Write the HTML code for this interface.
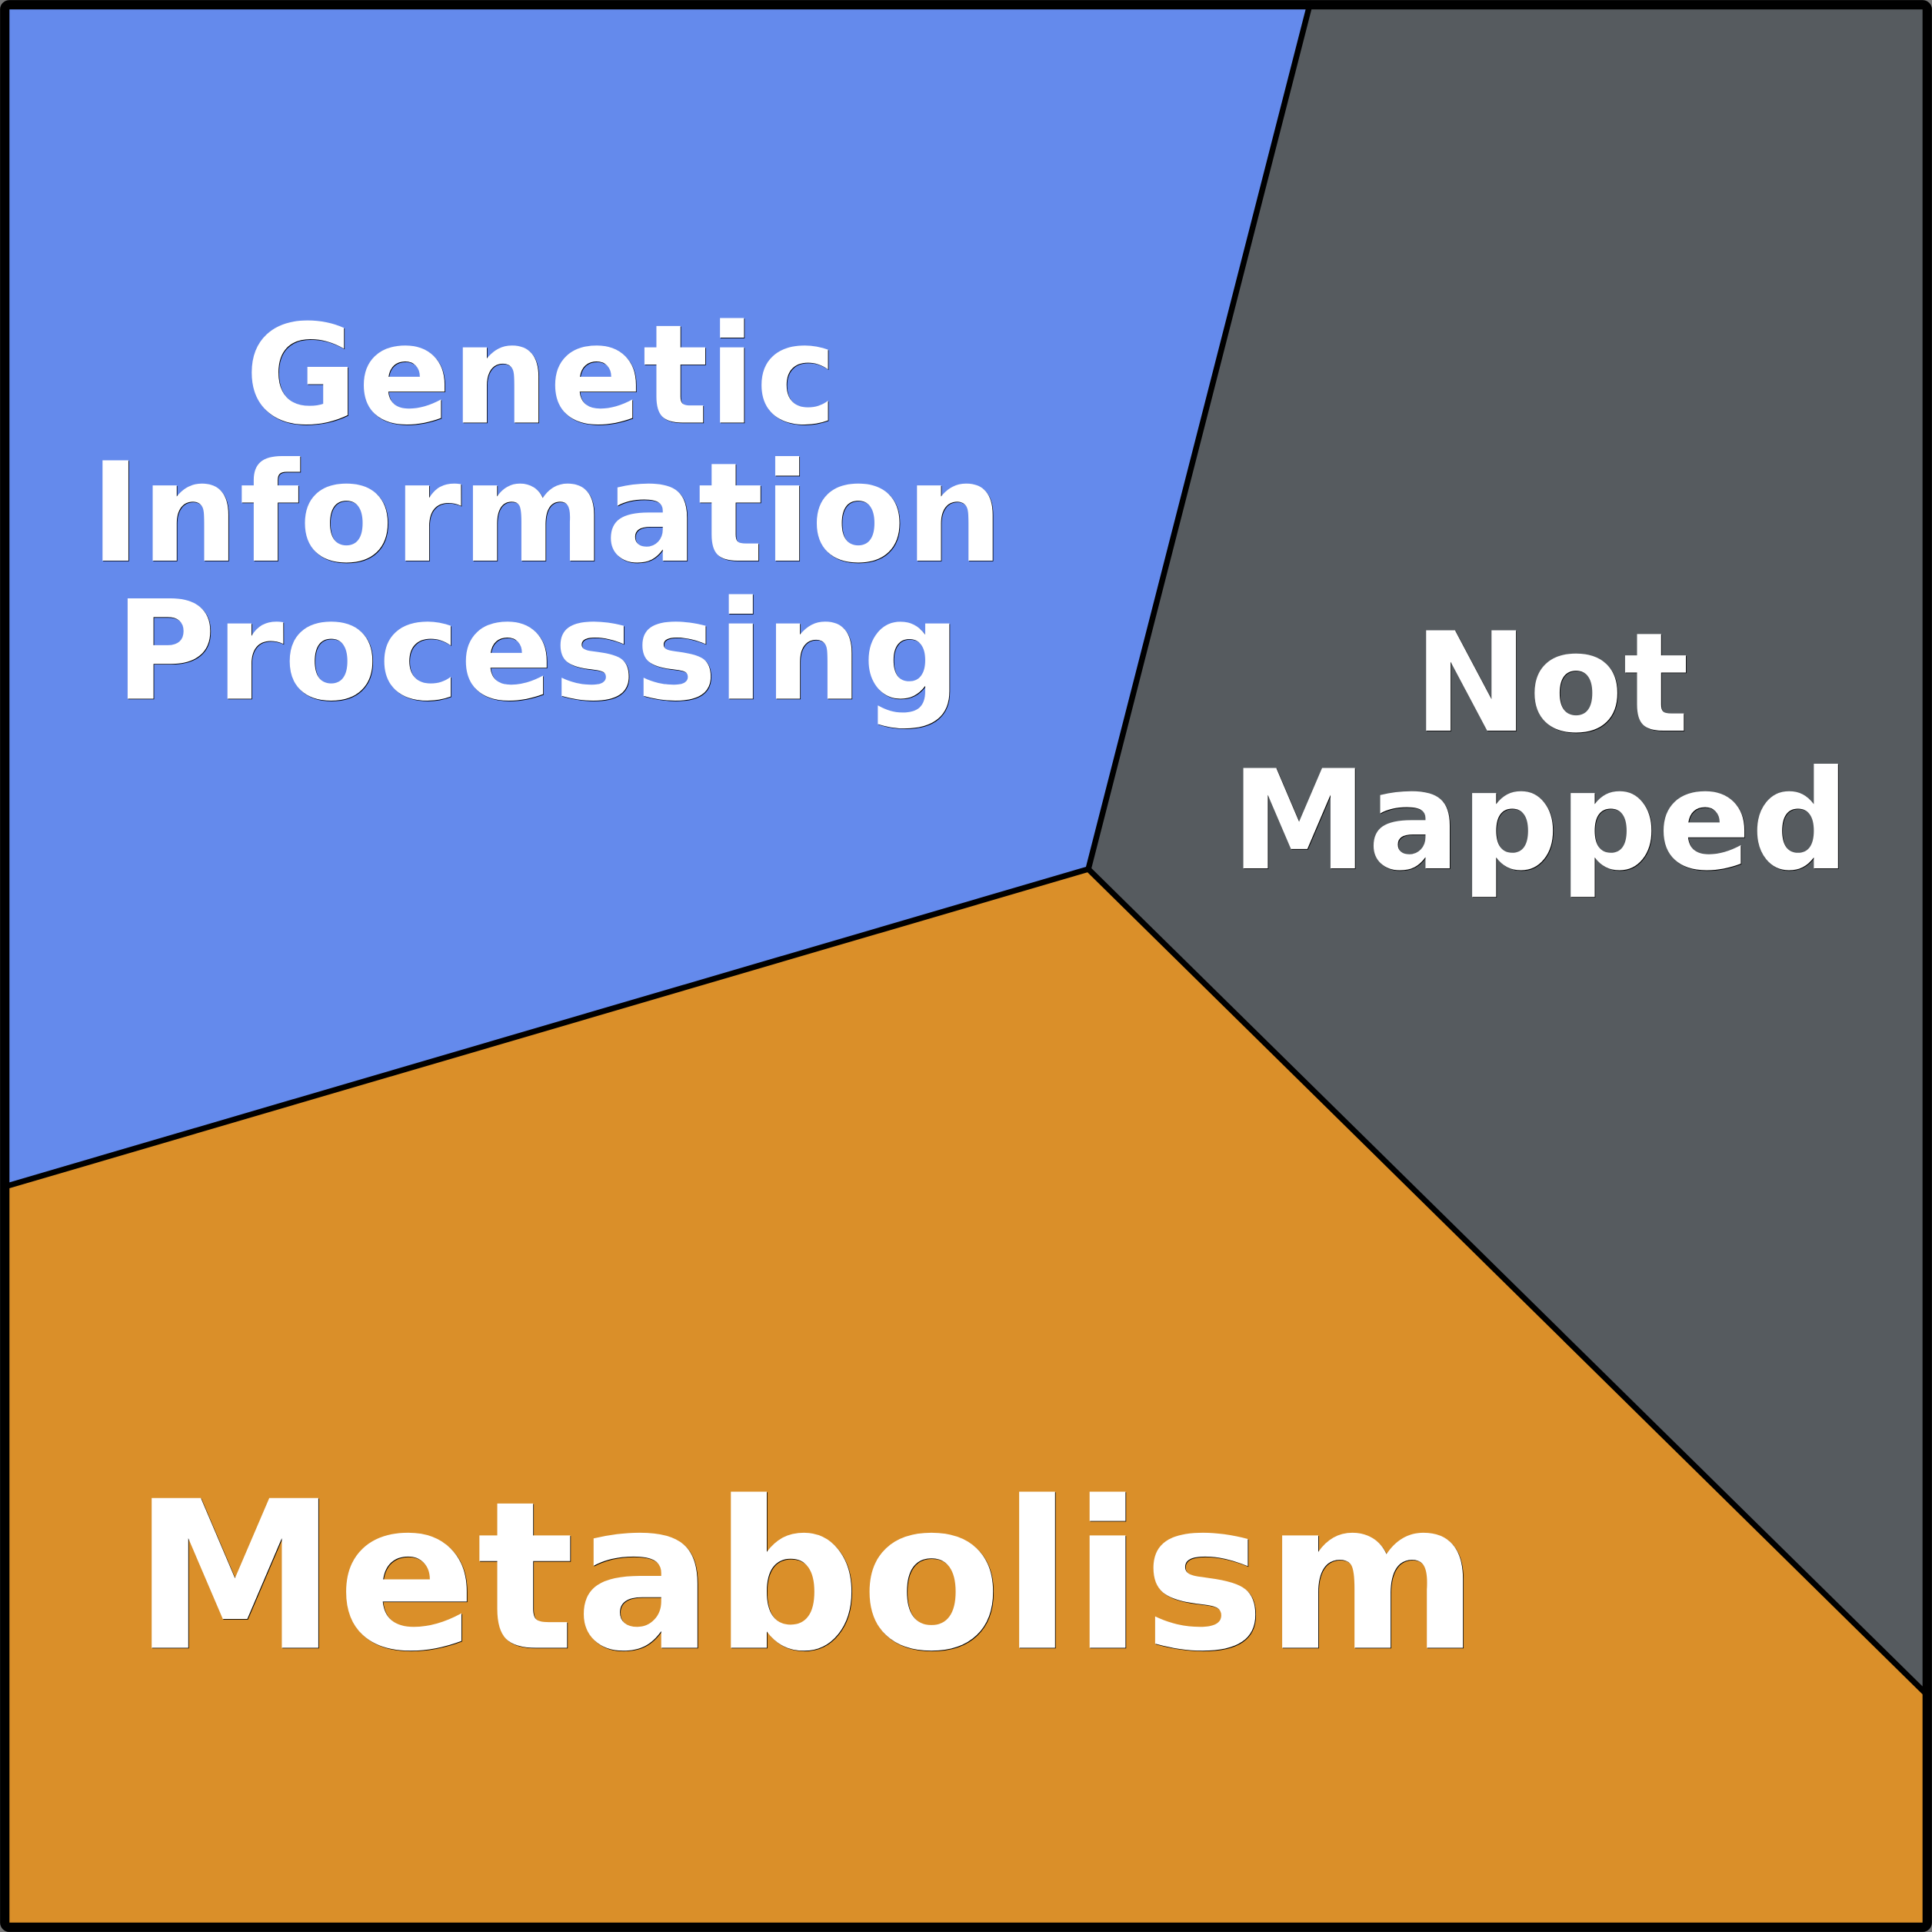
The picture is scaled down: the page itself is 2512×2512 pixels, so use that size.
<!DOCTYPE html>
<html><head><meta charset="utf-8"><style>
html,body{margin:0;padding:0;background:#000;width:2512px;height:2512px;overflow:hidden}
svg{display:block}
text{font-family:"DejaVu Sans",sans-serif;font-weight:700;fill:#fff}
.s{fill:#000}
</style></head><body>
<svg xmlns="http://www.w3.org/2000/svg" width="2512" height="2512" viewBox="0 0 2512 2512">
<rect width="2512" height="2512" fill="#777"/>
<rect x="6" y="6" width="2500" height="2500" rx="6" fill="#da8f29"/>
<polygon points="6,1543 1415,1130 1703,6 6,6" fill="#648aec"/>
<polygon points="1703,6 1415,1130 2506,2204 2506,6" fill="#565b5f"/>
<g fill="none" stroke="#000" stroke-width="7.4">
<polyline points="6,1543 1415,1130 1703,6"/>
<line x1="1415" y1="1130" x2="2506" y2="2204"/>
</g>
<rect x="6.200" y="6.200" width="2499.600" height="2499.600" rx="6" fill="none" stroke="#000" stroke-width="12.2"/>
<g font-size="179" text-anchor="middle">
<text class="s" x="704.300" y="550.300">Genetic</text>
<text class="s" x="711.600" y="729.800">Information</text>
<text class="s" x="700.300" y="909.300">Processing</text>
<text class="s" x="2017.800" y="950.800">Not</text>
<text class="s" x="2003.300" y="1129.800">Mapped</text>
<text x="703.500" y="549.500">Genetic</text>
<text x="710.800" y="729">Information</text>
<text x="699.500" y="908.500">Processing</text>
<text x="2017" y="950">Not</text>
<text x="2002.500" y="1129">Mapped</text>
</g>
<text class="s" x="173.500" y="2143.300" font-size="267.2">Metabolism</text>
<text x="172.700" y="2142.500" font-size="267.2">Metabolism</text>
</svg>
</body></html>
